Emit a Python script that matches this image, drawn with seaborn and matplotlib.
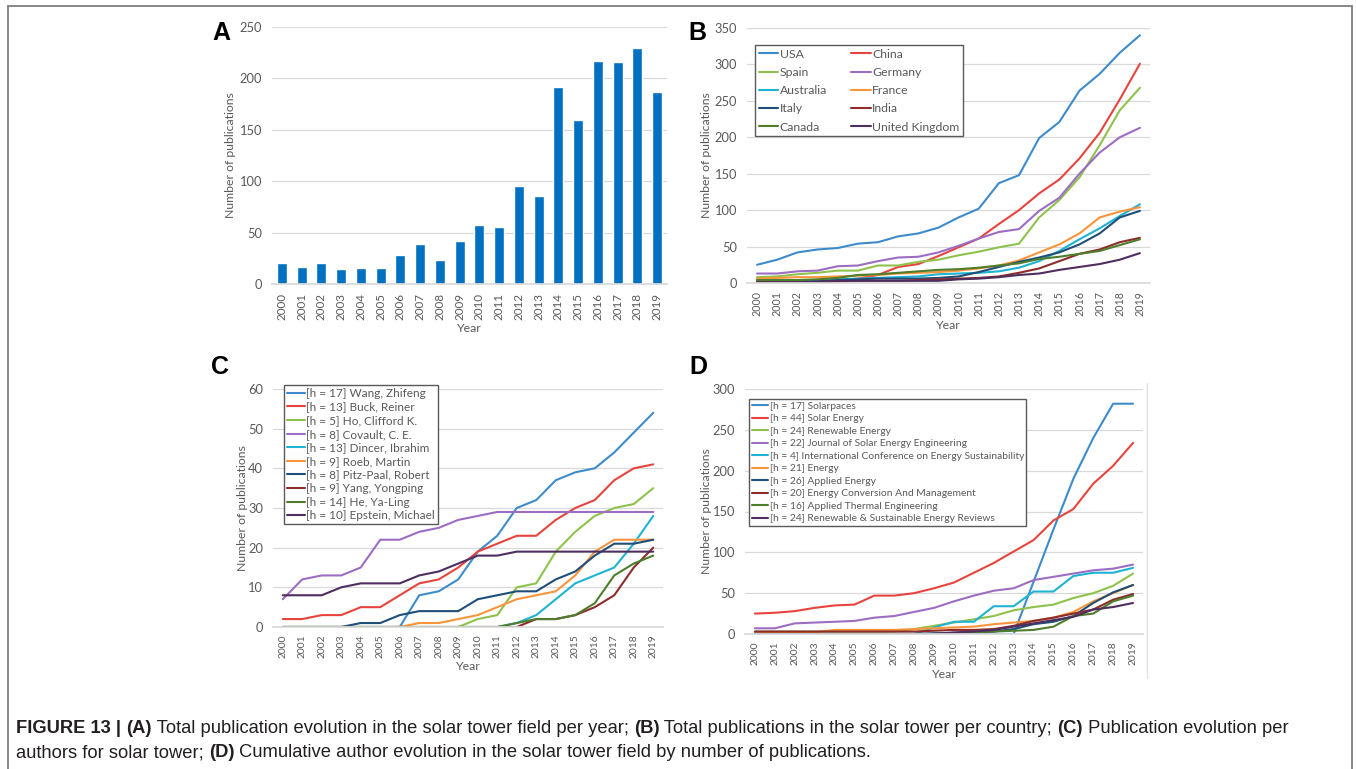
import numpy as np
import pandas as pd
import matplotlib
matplotlib.use("Agg")
import matplotlib.pyplot as plt
import seaborn as sns
from matplotlib.lines import Line2D

# ---------------- data ----------------
years = list(range(2000, 2020))
year_labels = [str(y) for y in years]

# Panel A
pubs_total = [20, 17, 20, 15, 16, 16, 28, 39, 23, 42, 57, 55, 95, 86, 192, 160, 217, 216, 230, 187]

# Panel B
countries = ["USA", "China", "Spain", "Germany", "Australia", "France", "Italy", "India", "Canada", "United Kingdom"]
usa = [25, 32, 42, 46, 48, 54, 56, 64, 68, 76, 90, 102, 137, 148, 199, 221, 264, 287, 316, 340]
china = [2, 2, 3, 3, 4, 6, 11, 22, 26, 37, 49, 61, 81, 100, 123, 142, 171, 206, 252, 301]
spain = [8, 9, 12, 14, 17, 17, 24, 24, 29, 32, 38, 43, 49, 54, 90, 114, 145, 189, 237, 268]
germany = [13, 13, 16, 17, 23, 24, 30, 35, 36, 42, 51, 61, 70, 74, 99, 117, 150, 179, 200, 213]
australia = [4, 4, 4, 4, 5, 6, 7, 8, 9, 12, 13, 14, 16, 21, 30, 44, 60, 75, 92, 108]
france = [6, 7, 8, 8, 9, 10, 11, 13, 14, 15, 17, 20, 24, 31, 42, 53, 68, 90, 98, 104]
italy = [2, 2, 2, 2, 4, 5, 6, 6, 6, 7, 9, 15, 22, 29, 35, 42, 53, 68, 90, 99]
india = [1, 1, 1, 1, 2, 3, 3, 3, 4, 5, 6, 7, 9, 14, 20, 30, 40, 46, 56, 62]
canada = [4, 4, 4, 5, 7, 11, 12, 14, 16, 18, 19, 21, 24, 27, 33, 36, 40, 44, 52, 60]
uk = [1, 1, 1, 2, 3, 3, 3, 3, 3, 3, 5, 6, 8, 11, 13, 18, 22, 26, 32, 41]

# Panel C
authors = ["[h = 17] Wang, Zhifeng", "[h = 13] Buck, Reiner", "[h = 5] Ho, Clifford K.",
           "[h = 8] Covault, C. E.", "[h = 13] Dincer, Ibrahim", "[h = 9] Roeb, Martin",
           "[h = 8] Pitz-Paal, Robert", "[h = 9] Yang, Yongping", "[h = 14] He, Ya-Ling",
           "[h = 10] Epstein, Michael"]
wang = [0, 0, 0, 0, 0, 0, 0, 8, 9, 12, 19, 23, 30, 32, 37, 39, 40, 44, 49, 54]
buck = [2, 2, 3, 3, 5, 5, 8, 11, 12, 15, 19, 21, 23, 23, 27, 30, 32, 37, 40, 41]
ho = [0, 0, 0, 0, 0, 0, 0, 0, 0, 0, 2, 3, 10, 11, 19, 24, 28, 30, 31, 35]
covault = [7, 12, 13, 13, 15, 22, 22, 24, 25, 27, 28, 29, 29, 29, 29, 29, 29, 29, 29, 29]
dincer = [0, 0, 0, 0, 0, 0, 0, 0, 0, 0, 0, 0, 1, 3, 7, 11, 13, 15, 21, 28]
roeb = [0, 0, 0, 0, 0, 0, 0, 1, 1, 2, 3, 5, 7, 8, 9, 13, 19, 22, 22, 22]
pitz = [0, 0, 0, 0, 1, 1, 3, 4, 4, 4, 7, 8, 9, 9, 12, 14, 18, 21, 21, 22]
yang = [0, 0, 0, 0, 0, 0, 0, 0, 0, 0, 0, 0, 0, 2, 2, 3, 5, 8, 15, 20]
he = [0, 0, 0, 0, 0, 0, 0, 0, 0, 0, 0, 0, 1, 2, 2, 3, 6, 13, 16, 18]
epstein = [8, 8, 8, 10, 11, 11, 11, 13, 14, 16, 18, 18, 19, 19, 19, 19, 19, 19, 19, 19]

# Panel D
journals = ["[h = 17] Solarpaces", "[h = 44] Solar Energy", "[h = 24] Renewable Energy",
            "[h = 22] Journal of Solar Energy Engineering",
            "[h = 4] International Conference on Energy Sustainability", "[h = 21] Energy",
            "[h = 26] Applied Energy", "[h = 20] Energy Conversion And Management",
            "[h = 16] Applied Thermal Engineering", "[h = 24] Renewable & Sustainable Energy Reviews"]
solarpaces = [0, 0, 0, 0, 0, 0, 0, 0, 0, 0, 0, 0, 0, 0, 64, 128, 190, 240, 282, 282]
solar_energy = [25, 26, 28, 32, 35, 36, 47, 47, 50, 56, 63, 75, 87, 101, 115, 139, 153, 184, 206, 234]
renewable = [3, 3, 3, 3, 3, 3, 3, 3, 6, 10, 14, 18, 22, 29, 33, 36, 44, 50, 59, 74]
jsee = [7, 7, 13, 14, 15, 16, 20, 22, 27, 32, 40, 47, 53, 56, 66, 70, 74, 78, 80, 85]
icoes = [0, 0, 0, 0, 0, 0, 0, 0, 0, 8, 15, 15, 34, 34, 52, 52, 71, 75, 75, 81]
energy = [2, 2, 2, 2, 5, 5, 5, 5, 6, 7, 8, 9, 12, 14, 16, 20, 27, 40, 50, 60]
applied = [0, 0, 0, 0, 0, 0, 0, 0, 0, 1, 1, 2, 3, 6, 12, 15, 22, 38, 51, 60]
ecm = [3, 3, 3, 3, 3, 3, 3, 3, 3, 4, 5, 5, 6, 10, 16, 20, 25, 30, 42, 49]
ate = [0, 0, 0, 0, 0, 0, 0, 0, 0, 0, 1, 2, 3, 4, 5, 9, 22, 25, 40, 47]
rser = [0, 0, 0, 0, 0, 0, 0, 0, 0, 0, 2, 3, 5, 9, 13, 17, 21, 30, 33, 38]

palette10 = ["#3E8BCB", "#E8443D", "#8FC24B", "#9C6DC2", "#1EB3D2",
             "#F8943A", "#1F4E78", "#8E2B2B", "#4E7D2B", "#4E2E5E"]

caption1 = [("FIGURE 13 | ", True), ("(A)", True),
            (" Total publication evolution in the solar tower field per year; ", False),
            ("(B)", True), (" Total publications in the solar tower per country; ", False),
            ("(C)", True), (" Publication evolution per", False)]
caption2 = [("authors for solar tower; ", False), ("(D)", True),
            (" Cumulative author evolution in the solar tower field by number of publications.", False)]

# ---------------- figure ----------------
sns.set_theme(style="white")
plt.rcParams["font.family"] = ["Lato", "DejaVu Sans"]

W, H = 1356, 769
fig = plt.figure(figsize=(W / 100, H / 100), dpi=100)
fig.patch.set_facecolor("white")

GRAY = "#595959"
LAB_FS = 8.8


def ax_px(l, t, r, b):
    return fig.add_axes([l / W, 1 - b / H, (r - l) / W, (b - t) / H])


def long_df(names, series):
    rows = []
    for n, s in zip(names, series):
        for i, v in enumerate(s):
            rows.append({"idx": i, "name": n, "value": v})
    return pd.DataFrame(rows)


def style(ax, ymax, ystep, ylab_dx, xlab_dy, xfs, yfs, xpad):
    ax.set_ylim(0, ymax)
    ax.set_yticks(np.arange(0, ymax + 1, ystep))
    ax.set_xlim(-0.5, 19.5)
    ax.set_xticks(range(20))
    ax.set_xticklabels(year_labels, rotation=90)
    ax.grid(axis="y", color="#D9D9D9", lw=0.9)
    ax.grid(axis="x", visible=False)
    ax.set_axisbelow(True)
    for s in ["top", "right", "left"]:
        ax.spines[s].set_visible(False)
    ax.spines["bottom"].set_color("#D9D9D9")
    ax.tick_params(axis="both", length=0, colors=GRAY)
    ax.tick_params(axis="y", pad=7, labelsize=yfs)
    ax.tick_params(axis="x", pad=xpad, labelsize=xfs)
    ax.set_xlabel("Year", fontsize=LAB_FS, color=GRAY)
    ax.set_ylabel("Number of publications", fontsize=LAB_FS, color=GRAY)
    bb = ax.get_position()
    wpx, hpx = bb.width * W, bb.height * H
    ax.yaxis.label.set(va="center", ha="center")
    ax.yaxis.set_label_coords(-ylab_dx / wpx, 0.5)
    ax.xaxis.label.set(va="center", ha="center")
    ax.xaxis.set_label_coords(0.5, -xlab_dy / hpx)


def finish_legend(leg):
    leg.get_frame().set_linewidth(1.0)
    for t in leg.get_texts():
        t.set_color(GRAY)


# Panel A
axA = ax_px(272, 27, 667, 284)
sns.barplot(x=list(range(20)), y=pubs_total, color="#0070C0", saturation=1,
            width=0.5, ax=axA, native_scale=True)
style(axA, 250, 50, 41, 45, 8.4, 9.3, 6.5)

# Panel B
axB = ax_px(747, 28, 1150, 283)
dfB = long_df(countries, [usa, china, spain, germany, australia, france, italy, india, canada, uk])
sns.lineplot(data=dfB, x="idx", y="value", hue="name", hue_order=countries,
             palette=dict(zip(countries, palette10)), lw=1.5, ax=axB)
style(axB, 350, 50, 41, 42, 7.7, 9.3, 6)
h, l = axB.get_legend_handles_labels()
hd = dict(zip(l, h))
orderB = ["USA", "Spain", "Australia", "Italy", "Canada", "China", "Germany", "France", "India", "United Kingdom"]
legB = axB.legend([hd[k] for k in orderB], orderB, ncol=2, loc="upper left",
                  bbox_to_anchor=(0.02, 0.933), fontsize=8.8, frameon=True, fancybox=False,
                  edgecolor=GRAY, framealpha=1, handlelength=1.6, handletextpad=0.1,
                  columnspacing=2.0, labelspacing=0.59, borderpad=0.3, borderaxespad=0)
finish_legend(legB)

# Panel C
axC = ax_px(273, 389, 663, 627)
dfC = long_df(authors, [wang, buck, ho, covault, dincer, roeb, pitz, yang, he, epstein])
sns.lineplot(data=dfC, x="idx", y="value", hue="name", hue_order=authors,
             palette=dict(zip(authors, palette10)), lw=1.5, ax=axC)
style(axC, 60, 10, 30, 39, 7.4, 9.3, 5.3)
h, l = axC.get_legend_handles_labels()
legC = axC.legend(h, l, loc="upper left", bbox_to_anchor=(0.028, 1.017), fontsize=8.5,
                  frameon=True, fancybox=False, edgecolor=GRAY, framealpha=1,
                  handlelength=1.5, handletextpad=0.15, labelspacing=0.22,
                  borderpad=0.25, borderaxespad=0)
finish_legend(legC)

# Panel D
axD = ax_px(745, 389, 1143, 634)
dfD = long_df(journals, [solarpaces, solar_energy, renewable, jsee, icoes, energy, applied, ecm, ate, rser])
sns.lineplot(data=dfD, x="idx", y="value", hue="name", hue_order=journals,
             palette=dict(zip(journals, palette10)), lw=1.5, ax=axD)
style(axD, 300, 50, 38, 40, 7.4, 9.3, 5.3)
h, l = axD.get_legend_handles_labels()
legD = axD.legend(h, l, loc="upper left", bbox_to_anchor=(0.01, 0.959), fontsize=7.4,
                  frameon=True, fancybox=False, edgecolor=GRAY, framealpha=1,
                  handlelength=1.6, handletextpad=0.15, labelspacing=0.32,
                  borderpad=0.25, borderaxespad=0)
finish_legend(legD)

# light chart-area edge right of panel D
fig.add_artist(Line2D([1147 / W, 1147 / W], [1 - 383 / H, 1 - 678 / H], transform=fig.transFigure,
                      color="#E3E3E3", lw=1))

# Panel letters
for letter, (x, y) in zip("ABCD", [(221, 33), (697, 33), (220, 367), (698, 367)]):
    fig.text(x / W, 1 - y / H, letter, fontsize=18, fontweight="bold", ha="center", va="center",
             family="Liberation Sans", color="black")

# Outer frame (left, top, right)
fc = "#7F7F7F"
fig.add_artist(Line2D([8 / W, 8 / W], [0, 1 - 6 / H], transform=fig.transFigure, color=fc, lw=1.3))
fig.add_artist(Line2D([8 / W, 1352 / W], [1 - 6 / H, 1 - 6 / H], transform=fig.transFigure, color=fc, lw=1.3))
fig.add_artist(Line2D([1352 / W, 1352 / W], [0, 1 - 6 / H], transform=fig.transFigure, color=fc, lw=1.3))

# Caption with mixed bold/normal runs
renderer = fig.canvas.get_renderer()


def draw_rich(x_px, y_px, pieces, size):
    x = x_px
    for txt, bold in pieces:
        t = fig.text(x / W, 1 - y_px / H, txt, fontsize=size,
                     fontweight="bold" if bold else "normal", family="Liberation Sans",
                     va="baseline", ha="left", color="#231F20")
        x += t.get_window_extent(renderer=renderer).width


draw_rich(16, 733, caption1, 13.2)
draw_rich(16, 757, caption2, 13.2)

fig.savefig("out.png", dpi=100, facecolor="white")
